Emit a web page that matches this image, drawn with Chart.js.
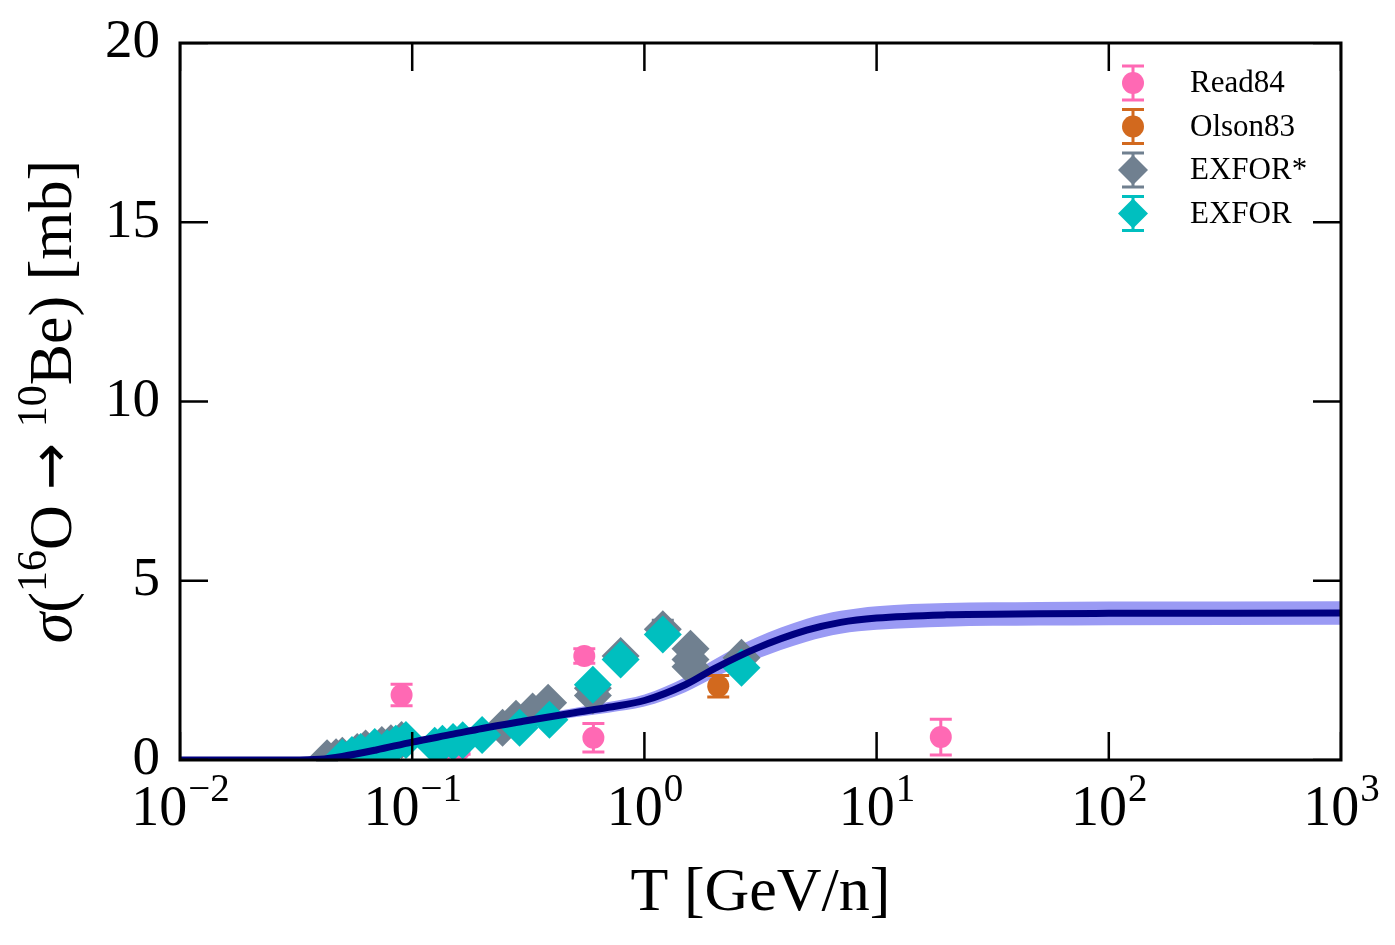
<!DOCTYPE html>
<html><head><meta charset="utf-8">
<script src="https://cdn.jsdelivr.net/npm/chart.js@4.4.1/dist/chart.umd.min.js"></script>
<style>html,body{margin:0;padding:0;background:#fff;} canvas{display:block;}</style>
</head><body>
<canvas id="c" width="1395" height="945"></canvas>
<script>
// ---- tick labels ----
const xTickValues = [0.01, 0.1, 1, 10, 100, 1000];
const xTickBase   = '10';
const xTickExps   = ['−2', '−1', '0', '1', '2', '3'];
const yTickValues = [0, 5, 10, 15, 20];

// ---- model curve and band ----
const curveT  = [0.01, 0.03, 0.04, 0.05, 0.07, 0.1, 0.15, 0.2, 0.3, 0.5, 0.7, 1, 1.5, 2, 3, 5, 7, 10, 20, 50, 100, 1000];
const curveV  = [0, 0, 0.02, 0.10, 0.28, 0.50, 0.72, 0.88, 1.08, 1.32, 1.47, 1.66, 2.10, 2.55, 3.10, 3.62, 3.84, 3.96, 4.05, 4.08, 4.09, 4.10];
const bandHi  = [0, 0, 0.03, 0.13, 0.33, 0.56, 0.80, 0.97, 1.19, 1.45, 1.62, 1.83, 2.31, 2.80, 3.40, 3.94, 4.16, 4.29, 4.38, 4.41, 4.42, 4.43];
const bandLo  = [0, 0, 0.01, 0.07, 0.23, 0.44, 0.64, 0.79, 0.97, 1.19, 1.32, 1.49, 1.89, 2.30, 2.80, 3.30, 3.52, 3.63, 3.72, 3.75, 3.76, 3.77];

// ---- Read84 ----
const read84T   = [0.090, 0.135, 0.160, 0.551, 0.603, 18.9];
const read84V   = [1.81, 0.25, 0.28, 2.90, 0.62, 0.64];
const read84Err = [0.30, 0.12, 0.12, 0.20, 0.40, 0.50];

// ---- Olson83 ----
const olsonT   = [2.08];
const olsonV   = [2.06];
const olsonErr = [0.30];

// ---- EXFOR* ----
const exfStarT   = [0.043, 0.047, 0.050, 0.058, 0.063, 0.074, 0.081, 0.090, 0.245, 0.280, 0.330, 0.385, 0.600, 0.600, 0.790, 1.20, 1.58, 1.58, 1.58, 2.62];
const exfStarV   = [0.05, 0.08, 0.12, 0.22, 0.32, 0.42, 0.47, 0.56, 0.90, 1.15, 1.35, 1.60, 1.80, 2.00, 2.90, 3.65, 3.10, 2.80, 2.60, 2.85];
const exfStarErr = [0.05, 0.05, 0.05, 0.05, 0.05, 0.05, 0.05, 0.05, 0.08, 0.08, 0.08, 0.10, 0.15, 0.15, 0.15, 0.25, 0.15, 0.15, 0.15, 0.15];

// ---- EXFOR ----
const exfT   = [0.050, 0.055, 0.060, 0.069, 0.078, 0.085, 0.094, 0.125, 0.135, 0.150, 0.165, 0.200, 0.290, 0.390, 0.600, 0.790, 1.20, 2.62];
const exfV   = [0.06, 0.14, 0.22, 0.36, 0.33, 0.45, 0.56, 0.40, 0.45, 0.50, 0.55, 0.70, 0.90, 1.12, 2.10, 2.80, 3.50, 2.57];
const exfErr = [0.04, 0.04, 0.04, 0.04, 0.04, 0.04, 0.05, 0.05, 0.05, 0.05, 0.05, 0.06, 0.08, 0.08, 0.15, 0.15, 0.15, 0.15];

const FONT = "'Liberation Serif', 'DejaVu Serif', serif";
const pts = (xs, ys) => xs.map((x, i) => ({x: x, y: ys[i]}));

function scatterSet(label, T, V, E, color, style, radius) {
  return {
    label: label, data: pts(T, V), errors: E, showLine: false,
    pointStyle: style, pointRadius: radius, pointHoverRadius: radius,
    pointBackgroundColor: color, pointBorderColor: color, pointBorderWidth: 0,
    borderColor: color, backgroundColor: color, errColor: color
  };
}

const errorBarPlugin = {
  id: 'errorBars',
  beforeDatasetDraw(chart, args) {
    const ds = chart.data.datasets[args.index];
    if (!ds.errors) return;
    const xs = chart.scales.x, ys = chart.scales.y, ctx = chart.ctx;
    ctx.save();
    ctx.strokeStyle = ds.errColor; ctx.lineWidth = 3;
    ds.data.forEach((p, i) => {
      const e = ds.errors[i];
      const px = xs.getPixelForValue(p.x);
      const y1 = ys.getPixelForValue(p.y - e), y2 = ys.getPixelForValue(p.y + e);
      ctx.beginPath();
      ctx.moveTo(px, y1); ctx.lineTo(px, y2);
      ctx.moveTo(px - 11, y1); ctx.lineTo(px + 11, y1);
      ctx.moveTo(px - 11, y2); ctx.lineTo(px + 11, y2);
      ctx.stroke();
    });
    ctx.restore();
  }
};

const framePlugin = {
  id: 'frame',
  afterDatasetsDraw(chart) {
    const {ctx, chartArea: a} = chart;
    const xs = chart.scales.x, ys = chart.scales.y;
    ctx.save();
    ctx.beginPath();
    ctx.rect(a.left, a.top, a.right - a.left, a.bottom - a.top);
    ctx.clip();
    ctx.strokeStyle = '#000'; ctx.lineWidth = 2.5;
    const L = 28;
    xs.ticks.forEach(t => {
      const px = xs.getPixelForValue(t.value);
      ctx.beginPath();
      ctx.moveTo(px, a.bottom); ctx.lineTo(px, a.bottom - L);
      ctx.moveTo(px, a.top); ctx.lineTo(px, a.top + L);
      ctx.stroke();
    });
    ys.ticks.forEach(t => {
      const py = ys.getPixelForValue(t.value);
      ctx.beginPath();
      ctx.moveTo(a.left, py); ctx.lineTo(a.left + L, py);
      ctx.moveTo(a.right, py); ctx.lineTo(a.right - L, py);
      ctx.stroke();
    });
    ctx.restore();
    ctx.save();
    ctx.strokeStyle = '#000'; ctx.lineWidth = 3;
    ctx.strokeRect(a.left, a.top, a.right - a.left, a.bottom - a.top);
    ctx.restore();
  }
};

// x tick labels with real superscripts, placed through the x scale
const xLabelPlugin = {
  id: 'xLabels',
  afterDraw(chart) {
    const ctx = chart.ctx, xs = chart.scales.x, a = chart.chartArea;
    ctx.save();
    ctx.fillStyle = '#000'; ctx.textBaseline = 'alphabetic'; ctx.textAlign = 'left';
    const baseFont = '56px ' + FONT, supFont = '39px ' + FONT;
    const by = a.bottom + 65;
    xTickValues.forEach((v, i) => {
      ctx.font = baseFont; const wb = ctx.measureText(xTickBase).width;
      ctx.font = supFont; const ws = ctx.measureText(xTickExps[i]).width;
      const cx = xs.getPixelForValue(v);
      const x0 = cx - (wb + ws) / 2;
      ctx.font = baseFont; ctx.fillText(xTickBase, x0, by);
      ctx.font = supFont; ctx.fillText(xTickExps[i], x0 + wb + 1, by - 24);
    });
    ctx.restore();
  }
};

// y axis title with italic sigma and superscripts
const yTitlePlugin = {
  id: 'yTitle',
  afterDraw(chart) {
    const ctx = chart.ctx, a = chart.chartArea;
    const segs = [
      { t: 'σ', f: 'italic 62px ' + FONT, dy: 0 },
      { t: '(', f: '62px ' + FONT, dy: 0 },
      { t: '16', f: '42px ' + FONT, dy: -25 },
      { t: 'O ', f: '62px ' + FONT, dy: 0 },
      { t: '→', f: '56px DejaVu Sans', dy: -2 },
      { t: ' ', f: '62px ' + FONT, dy: 0 },
      { t: '10', f: '42px ' + FONT, dy: -25 },
      { t: 'Be) [mb]', f: '62px ' + FONT, dy: 0 }
    ];
    ctx.save();
    let total = 0;
    segs.forEach(s => { ctx.font = s.f; s.w = ctx.measureText(s.t).width; total += s.w; });
    const cy = (a.top + a.bottom) / 2;
    ctx.translate(71, cy);
    ctx.rotate(-Math.PI / 2);
    ctx.fillStyle = '#000'; ctx.textBaseline = 'alphabetic'; ctx.textAlign = 'left';
    let x = -total / 2;
    segs.forEach(s => { ctx.font = s.f; ctx.fillText(s.t, x, s.dy); x += s.w; });
    ctx.restore();
  }
};

const legendPlugin = {
  id: 'customLegend',
  afterDraw(chart) {
    const ctx = chart.ctx;
    const items = ['Read84', 'Olson83', 'EXFOR*', 'EXFOR'];
    const mx = 1133, tx = 1190, y0 = 83, dy = 43.5;
    ctx.save();
    items.forEach((lab, i) => {
      const ds = chart.data.datasets.find(d => d.label === lab);
      const cy = y0 + i * dy;
      ctx.strokeStyle = ds.errColor; ctx.fillStyle = ds.errColor; ctx.lineWidth = 3;
      ctx.beginPath();
      ctx.moveTo(mx, cy - 17); ctx.lineTo(mx, cy + 17);
      ctx.moveTo(mx - 11, cy - 17); ctx.lineTo(mx + 11, cy - 17);
      ctx.moveTo(mx - 11, cy + 17); ctx.lineTo(mx + 11, cy + 17);
      ctx.stroke();
      ctx.beginPath();
      if (ds.pointStyle === 'circle') {
        ctx.arc(mx, cy, 11, 0, Math.PI * 2);
      } else {
        const r = 15;
        ctx.moveTo(mx, cy - r); ctx.lineTo(mx + r, cy); ctx.lineTo(mx, cy + r); ctx.lineTo(mx - r, cy); ctx.closePath();
      }
      ctx.fill();
      ctx.fillStyle = '#000';
      ctx.font = '31px ' + FONT;
      ctx.textBaseline = 'middle'; ctx.textAlign = 'left';
      ctx.fillText(lab, tx, cy + 1);
    });
    ctx.restore();
  }
};

const datasets = [
  { label: 'model', data: pts(curveT, curveV), borderColor: '#000080', borderWidth: 7,
    pointRadius: 0, fill: false, cubicInterpolationMode: 'monotone' },
  scatterSet('EXFOR', exfT, exfV, exfErr, '#00bfbf', 'rectRot', 19),
  scatterSet('EXFOR*', exfStarT, exfStarV, exfStarErr, '#708090', 'rectRot', 19),
  scatterSet('Olson83', olsonT, olsonV, olsonErr, '#d2691e', 'circle', 11),
  scatterSet('Read84', read84T, read84V, read84Err, '#ff69b4', 'circle', 11),
  { label: 'bandHi', data: pts(curveT, bandHi), borderWidth: 0, borderColor: 'rgba(0,0,0,0)',
    pointRadius: 0, fill: false, cubicInterpolationMode: 'monotone' },
  { label: 'bandLo', data: pts(curveT, bandLo), borderWidth: 0, borderColor: 'rgba(0,0,0,0)',
    backgroundColor: '#9a9af4', pointRadius: 0, fill: '-1', cubicInterpolationMode: 'monotone' }
];

new Chart(document.getElementById('c'), {
  type: 'line',
  data: { datasets: datasets },
  plugins: [errorBarPlugin, framePlugin, xLabelPlugin, yTitlePlugin, legendPlugin],
  options: {
    responsive: false, animation: false, devicePixelRatio: 1,
    layout: { padding: { top: 43, right: 54, left: 0, bottom: 0 } },
    plugins: { legend: { display: false }, tooltip: { enabled: false } },
    scales: {
      x: {
        type: 'logarithmic', min: 0.01, max: 1000,
        afterBuildTicks(s) { s.ticks = xTickValues.map(v => ({ value: v })); },
        afterFit(s) { s.height = 185; s.paddingLeft = 0; s.paddingRight = 0; },
        grid: { display: false, drawTicks: false }, border: { display: false },
        ticks: { display: false },
        title: { display: true, text: 'T [GeV/n]', color: '#000', font: { family: FONT, size: 62 }, padding: { top: 14, bottom: 14 } }
      },
      y: {
        type: 'linear', min: 0, max: 20,
        afterBuildTicks(s) { s.ticks = yTickValues.map(v => ({ value: v })); },
        afterFit(s) { s.width = 180; s.paddingTop = 0; s.paddingBottom = 0; },
        grid: { display: false, drawTicks: false }, border: { display: false },
        ticks: { color: '#000', font: { family: FONT, size: 55 }, padding: 20 },
        title: { display: false }
      }
    }
  }
});
</script>
</body></html>
